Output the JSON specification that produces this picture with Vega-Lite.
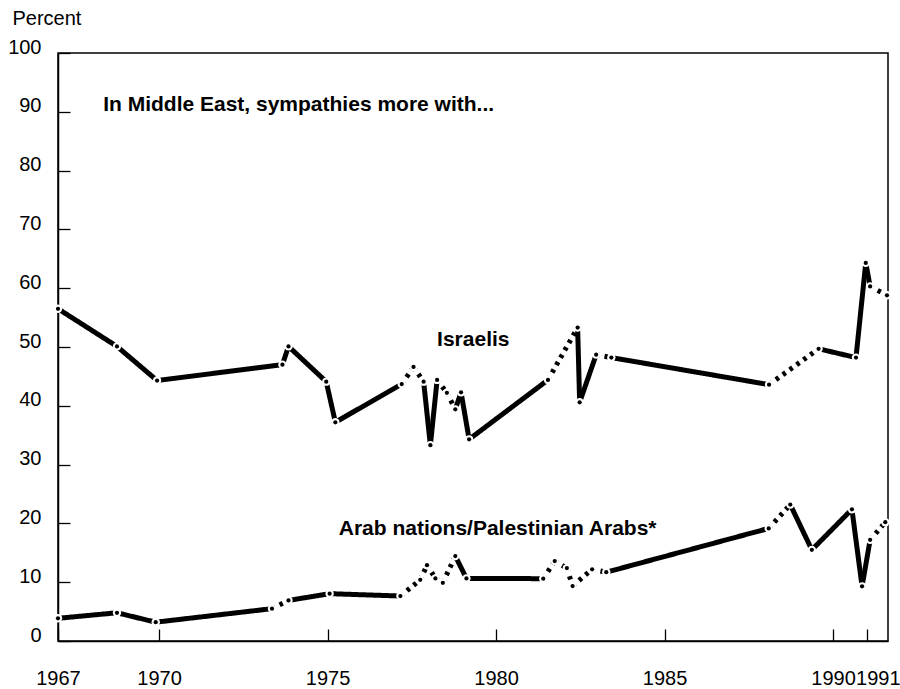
{
  "$schema": "https://vega.github.io/schema/vega-lite/v6.json",
  "width": 830,
  "height": 588,
  "autosize": {"type": "none"},
  "padding": {"left": 58, "top": 53, "right": 12, "bottom": 48},
  "background": "white",
  "config": {
    "view": {"stroke": "black", "strokeWidth": 1.5},
    "font": "Liberation Sans"
  },
  "data": {
    "values": [
      {"series": "Israelis", "year": 1967.0, "value": 56.5, "seg": "s"},
      {"series": "Israelis", "year": 1968.75, "value": 50.1, "seg": "s"},
      {"series": "Israelis", "year": 1969.94, "value": 44.3, "seg": "s"},
      {"series": "Israelis", "year": 1973.66, "value": 47.0, "seg": "s"},
      {"series": "Israelis", "year": 1973.84, "value": 50.1, "seg": "s"},
      {"series": "Israelis", "year": 1974.96, "value": 44.1, "seg": "s"},
      {"series": "Israelis", "year": 1975.23, "value": 37.2, "seg": "s"},
      {"series": "Israelis", "year": 1977.2, "value": 43.7, "seg": "d"},
      {"series": "Israelis", "year": 1977.55, "value": 46.6, "seg": "d"},
      {"series": "Israelis", "year": 1977.85, "value": 44.1, "seg": "s"},
      {"series": "Israelis", "year": 1978.05, "value": 33.3, "seg": "s"},
      {"series": "Israelis", "year": 1978.25, "value": 44.4, "seg": "d"},
      {"series": "Israelis", "year": 1978.54, "value": 42.2, "seg": "d"},
      {"series": "Israelis", "year": 1978.79, "value": 39.4, "seg": "s"},
      {"series": "Israelis", "year": 1978.96, "value": 42.3, "seg": "s"},
      {"series": "Israelis", "year": 1979.2, "value": 34.3, "seg": "s"},
      {"series": "Israelis", "year": 1981.54, "value": 44.4, "seg": "d"},
      {"series": "Israelis", "year": 1982.42, "value": 53.3, "seg": "s"},
      {"series": "Israelis", "year": 1982.48, "value": 40.6, "seg": "s"},
      {"series": "Israelis", "year": 1982.97, "value": 48.7, "seg": "d"},
      {"series": "Israelis", "year": 1983.42, "value": 48.2, "seg": "s"},
      {"series": "Israelis", "year": 1988.1, "value": 43.6, "seg": "d"},
      {"series": "Israelis", "year": 1989.57, "value": 49.7, "seg": "s"},
      {"series": "Israelis", "year": 1990.68, "value": 48.2, "seg": "s"},
      {"series": "Israelis", "year": 1990.97, "value": 64.3, "seg": "s"},
      {"series": "Israelis", "year": 1991.1, "value": 60.3, "seg": "d"},
      {"series": "Israelis", "year": 1991.6, "value": 58.8, "seg": "s"},
      {"series": "Arabs", "year": 1967.0, "value": 3.86, "seg": "s"},
      {"series": "Arabs", "year": 1968.75, "value": 4.8, "seg": "s"},
      {"series": "Arabs", "year": 1969.9, "value": 3.2, "seg": "s"},
      {"series": "Arabs", "year": 1973.35, "value": 5.5, "seg": "d"},
      {"series": "Arabs", "year": 1973.84, "value": 6.9, "seg": "s"},
      {"series": "Arabs", "year": 1975.06, "value": 8.05, "seg": "s"},
      {"series": "Arabs", "year": 1977.16, "value": 7.65, "seg": "d"},
      {"series": "Arabs", "year": 1977.75, "value": 10.4, "seg": "d"},
      {"series": "Arabs", "year": 1977.95, "value": 12.9, "seg": "d"},
      {"series": "Arabs", "year": 1978.2, "value": 10.65, "seg": "d"},
      {"series": "Arabs", "year": 1978.42, "value": 9.9, "seg": "d"},
      {"series": "Arabs", "year": 1978.79, "value": 14.45, "seg": "s"},
      {"series": "Arabs", "year": 1979.12, "value": 10.65, "seg": "s"},
      {"series": "Arabs", "year": 1981.4, "value": 10.6, "seg": "d"},
      {"series": "Arabs", "year": 1981.74, "value": 13.6, "seg": "d"},
      {"series": "Arabs", "year": 1982.1, "value": 12.4, "seg": "d"},
      {"series": "Arabs", "year": 1982.27, "value": 9.35, "seg": "d"},
      {"series": "Arabs", "year": 1982.85, "value": 12.2, "seg": "d"},
      {"series": "Arabs", "year": 1983.27, "value": 11.7, "seg": "s"},
      {"series": "Arabs", "year": 1988.09, "value": 19.15, "seg": "d"},
      {"series": "Arabs", "year": 1988.73, "value": 23.2, "seg": "s"},
      {"series": "Arabs", "year": 1989.37, "value": 15.5, "seg": "s"},
      {"series": "Arabs", "year": 1990.56, "value": 22.4, "seg": "s"},
      {"series": "Arabs", "year": 1990.86, "value": 9.3, "seg": "s"},
      {"series": "Arabs", "year": 1991.1, "value": 17.2, "seg": "d"},
      {"series": "Arabs", "year": 1991.55, "value": 20.2, "seg": "s"}
    ]
  },
  "layer": [
    {
      "transform": [
        {"window": [
          {"op": "lead", "field": "year", "as": "year2"},
          {"op": "lead", "field": "value", "as": "value2"}
        ], "groupby": ["series"], "sort": [{"field": "year"}]},
        {"filter": "datum.year2 != null"}
      ],
      "mark": {"type": "rule", "color": "black", "strokeWidth": 5, "strokeCap": "butt"},
      "encoding": {
        "x": {
          "field": "year", "type": "quantitative",
          "scale": {"domain": [1967, 1991.63], "nice": false, "zero": false},
          "axis": {
            "values": [1967, 1970, 1975, 1980, 1985, 1990, 1991],
            "format": "d", "title": null, "grid": false,
            "tickSize": -12, "tickColor": "black", "tickWidth": 1.3,
            "domainColor": "black", "domainWidth": 1.5,
            "labelFont": "Liberation Sans", "labelFontSize": 20, "labelColor": "black",
            "labelPadding": 55, "labelBaseline": "alphabetic",
            "labelFlush": false, "labelOverlap": false,
            "labelOffset": {"condition": [{"test": "datum.value === 1991", "value": 11}], "value": 0}
          }
        },
        "y": {
          "field": "value", "type": "quantitative",
          "scale": {"domain": [0, 100], "nice": false},
          "axis": {
            "values": [0, 10, 20, 30, 40, 50, 60, 70, 80, 90, 100],
            "title": "Percent", "titleAngle": 0, "titleAlign": "left", "titleBaseline": "alphabetic",
            "titleX": -46, "titleY": -29, "titleFont": "Liberation Sans", "titleFontSize": 20,
            "titleFontWeight": "normal", "titleColor": "black",
            "grid": false,
            "tickSize": -12, "tickColor": "black", "tickWidth": 1.3,
            "domainColor": "black", "domainWidth": 1.5,
            "labelFont": "Liberation Sans", "labelFontSize": 20, "labelColor": "black",
            "labelPadding": 29, "labelBaseline": "alphabetic", "labelAlign": "right",
            "labelFlush": false, "labelOverlap": false
          }
        },
        "x2": {"field": "year2"},
        "y2": {"field": "value2"},
        "strokeDash": {
          "field": "seg", "type": "nominal",
          "scale": {"domain": ["s", "d"], "range": [[1, 0], [3.5, 5]]},
          "legend": null
        },
        "detail": {"field": "series"}
      }
    },
    {
      "mark": {"type": "point", "filled": true, "color": "white", "size": 70, "opacity": 1, "strokeWidth": 0},
      "encoding": {
        "x": {"field": "year", "type": "quantitative"},
        "y": {"field": "value", "type": "quantitative"}
      }
    },
    {
      "mark": {"type": "point", "filled": true, "color": "black", "size": 18, "opacity": 1, "strokeWidth": 0},
      "encoding": {
        "x": {"field": "year", "type": "quantitative"},
        "y": {"field": "value", "type": "quantitative"}
      }
    },
    {
      "data": {
        "values": [
          {"year": 1968.34, "value": 90.2, "label": "In Middle East, sympathies more with..."},
          {"year": 1978.25, "value": 50.1, "label": "Israelis"},
          {"year": 1975.33, "value": 18.1, "label": "Arab nations/Palestinian Arabs*"}
        ]
      },
      "mark": {"type": "text", "align": "left", "baseline": "alphabetic", "font": "Liberation Sans", "fontSize": 21, "fontWeight": "bold", "color": "black"},
      "encoding": {
        "x": {"field": "year", "type": "quantitative"},
        "y": {"field": "value", "type": "quantitative"},
        "text": {"field": "label"}
      }
    }
  ]
}
